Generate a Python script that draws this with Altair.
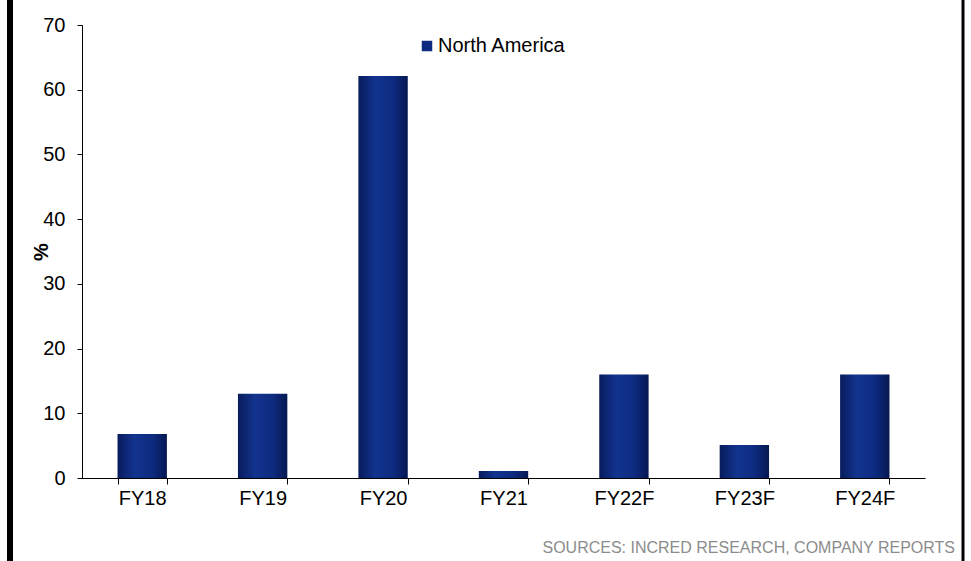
import altair as alt
import pandas as pd

# Annual growth for the North America segment
years = ["FY18", "FY19", "FY20", "FY21", "FY22F", "FY23F", "FY24F"]
growth = [6.8, 13.0, 62.1, 1.1, 16.0, 5.1, 16.0]
series_name = "North America"
y_ticks = [0, 10, 20, 30, 40, 50, 60, 70]
source_note = "SOURCES: INCRED RESEARCH, COMPANY REPORTS"

df = pd.DataFrame({"year": years, "value": growth, "series": series_name})

FONT = "Liberation Sans"
FS = 20
W, H = 843, 453
PAD_L, PAD_T = 82, 25

bar_fill = alt.LinearGradient(
    gradient="linear",
    x1=0, x2=1, y1=0, y2=0,
    stops=[
        alt.GradientStop(color="#081c5c", offset=0),
        alt.GradientStop(color="#12338f", offset=0.35),
        alt.GradientStop(color="#0d2b80", offset=0.7),
        alt.GradientStop(color="#061852", offset=1),
    ],
)

x_enc = alt.X(
    "year:N",
    sort=years,
    scale=alt.Scale(paddingInner=0.59, paddingOuter=0.295),
    axis=alt.Axis(
        title=None,
        labelAngle=0,
        labelFont=FONT,
        labelFontSize=FS,
        labelColor="#000000",
        labelPadding=4,
        tickBand="extent",
        tickSize=6,
        tickColor="#000000",
        domainColor="#000000",
        grid=False,
    ),
)
y_enc = alt.Y(
    "value:Q",
    scale=alt.Scale(domain=[0, 70], nice=False),
    axis=alt.Axis(
        title="%",
        titleFont=FONT,
        titleFontSize=FS,
        titleFontWeight="bold",
        titleColor="#000000",
        titleX=-31,
        titleY=H / 2,
        values=y_ticks,
        labelFont=FONT,
        labelFontSize=FS,
        labelColor="#000000",
        labelPadding=12,
        tickSize=5,
        tickColor="#000000",
        domainColor="#000000",
        grid=False,
    ),
)

bars = alt.Chart(df).mark_bar(fill=bar_fill, stroke=None).encode(x=x_enc, y=y_enc)

# transparent copy of the bars that carries the series legend
legend_layer = alt.Chart(df).mark_bar(opacity=0).encode(
    x=alt.X("year:N", sort=years),
    y="value:Q",
    color=alt.Color(
        "series:N",
        scale=alt.Scale(range=["#0d2a80"]),
        legend=alt.Legend(
            title=None,
            orient="none",
            legendX=335,
            legendY=11,
            padding=0,
            symbolType="square",
            symbolSize=110,
            symbolOpacity=1,
            symbolStrokeWidth=0,
            labelFont=FONT,
            labelFontSize=FS,
            labelColor="#000000",
            labelOffset=1,
        ),
    ),
)

# page frame bars on the left and right edges
left_edge = alt.Chart(pd.DataFrame({"k": [0]})).mark_rule(
    color="#000000", strokeWidth=6
).encode(x=alt.value(-72), y=alt.value(-PAD_T), y2=alt.value(561 - PAD_T))
right_edge = alt.Chart(pd.DataFrame({"k": [0]})).mark_rule(
    color="#000000", strokeWidth=3
).encode(x=alt.value(881), y=alt.value(-PAD_T), y2=alt.value(561 - PAD_T))

note = alt.Chart(pd.DataFrame({"t": [source_note]})).mark_text(
    align="right", baseline="alphabetic", font=FONT, fontSize=16, color="#8c8c8c"
).encode(x=alt.value(873), y=alt.value(528), text="t:N")

chart = (
    alt.layer(bars, legend_layer, left_edge, right_edge, note)
    .properties(
        width=W,
        height=H,
        autosize=alt.AutoSizeParams(type="none"),
        padding={"left": PAD_L, "top": PAD_T, "right": 971 - PAD_L - W, "bottom": 561 - PAD_T - H},
        background="#ffffff",
    )
    .configure_view(stroke=None)
)

chart.save("out.html", embed_options={"renderer": "svg", "actions": False})
